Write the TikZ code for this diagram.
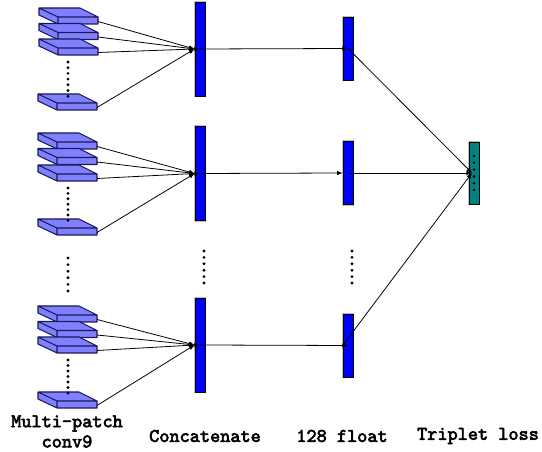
\documentclass[tikz,border=0pt]{standalone}
\usepackage{fontspec}
\newfontfamily\labelfont{Latin Modern Mono}[FakeBold=3]
\usetikzlibrary{arrows.meta}
\tikzset{>={Latex[length=3.2pt,width=2.6pt]}}
\definecolor{slabfill}{RGB}{128,128,255}
\definecolor{slabline}{RGB}{25,25,90}
\definecolor{barblue}{RGB}{0,0,255}
\definecolor{lossteal}{RGB}{0,128,128}
\tikzset{
    slab/.pic={
        \filldraw[fill=slabfill,draw=slabline,line width=0.6pt,line join=round]
            (0,0) -- (41,0) -- (59,9) -- (19,9) -- cycle
            (19,9) -- (59,9) -- (59,16) -- (19,16) -- cycle
            (0,0) -- (19,9) -- (19,16) -- (0,7) -- cycle;
        \coordinate (-out) at (59,13.5);
    },
    bar/.style={draw=black,fill=barblue,inner sep=0pt,minimum width=0.2cm,
        line width=0.4pt,preaction={draw=black!25,line width=1.4pt}},
    catbar/.style={bar,minimum height=1.88cm},
    fltbar/.style={bar,minimum height=1.26cm},
    lbl/.style={font=\labelfont\fontsize{11pt}{11.5pt}\selectfont,align=center}
}

\begin{document}
\begin{tikzpicture}[x=0.02cm,y=-0.02cm]
    \useasboundingbox (0,0) rectangle (542,452);
    % patches
    \pic (a1) at (39,8) {slab};
    \pic (a2) at (39,23.5) {slab};
    \pic (a3) at (39,39) {slab};
    \pic (a4) at (38,94) {slab};
    \pic (b1) at (38,133) {slab};
    \pic (b2) at (38,148.5) {slab};
    \pic (b3) at (38,165) {slab};
    \pic (b4) at (38,219) {slab};
    \pic (c1) at (38,306) {slab};
    \pic (c2) at (38,321.5) {slab};
    \pic (c3) at (38,337) {slab};
    \pic (c4) at (38,392) {slab};
    % dots
    \foreach \t in {0,...,6} {
        \fill (68,62+5.7*\t) circle (0.9pt);
        \fill (68,188+5.4*\t) circle (0.9pt);
        \fill (68,360+5.5*\t) circle (0.9pt);
    }
    \foreach \t in {0,...,5} {
        \fill (68,258+6.6*\t) circle (0.9pt);
        \fill (204,251+6.4*\t) circle (0.9pt);
        \fill (352,251+6.4*\t) circle (0.9pt);
    }
    % bars
    \node[catbar] at (200,49) (cat1) {};
    \node[catbar] at (200,173.5) (cat2) {};
    \node[catbar] at (200,345) (cat3) {};
    \node[fltbar] at (348,48.5) (flt1) {};
    \node[fltbar] at (348,173) (flt2) {};
    \node[fltbar] at (348,345.5) (flt3) {};
    \node[bar,fill=lossteal,minimum height=1.24cm] at (474,173) (loss) {};
    \coordinate (lossin) at (472,173);
    \path[->, line width=0.45pt]
    (a1-out) edge (cat1.west)
    (a2-out) edge (cat1.west)
    (a3-out) edge (cat1.west)
    (a4-out) edge (cat1.west)
    (b1-out) edge (cat2.west)
    (b2-out) edge (cat2.west)
    (b3-out) edge (cat2.west)
    (b4-out) edge (cat2.west)
    (c1-out) edge (cat3.west)
    (c2-out) edge (cat3.west)
    (c3-out) edge (cat3.west)
    (c4-out) edge (cat3.west)
    (cat1.west) edge (cat1.center)
    (cat2.west) edge (cat2.center)
    (cat3.west) edge (cat3.center)
    (cat1.center) edge (flt1.center)
    (cat2.center) edge (flt2.west)
    (cat3.center) edge (flt3.center)
    (flt1.center) edge (lossin)
    (flt2.center) edge (lossin)
    (flt3.west) edge (lossin)
    ;
    \foreach \t in {0,...,5} {
        \fill (474,156+6.8*\t) circle (0.8pt);
    }
    % labels
    \node[lbl] at (67,431.5) (lpatch) {Multi-patch\\conv9};
    \node[lbl] at (205,436) (lcat) {Concatenate};
    \node[lbl] at (342,436) (lflt) {128 float};
    \node[lbl] at (478,436) (lloss) {Triplet loss};
\end{tikzpicture}
\end{document}
